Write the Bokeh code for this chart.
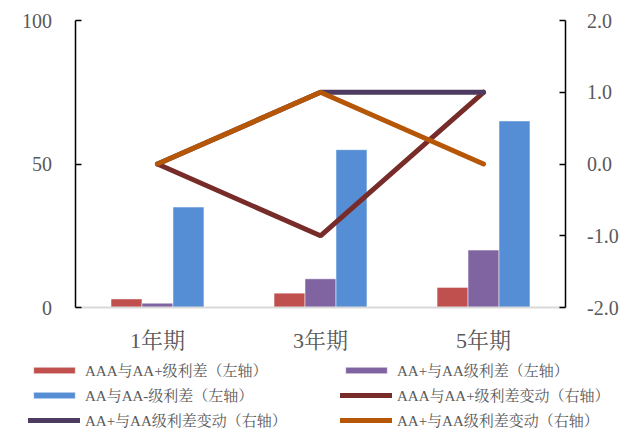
from bokeh.plotting import figure
from bokeh.models import (FactorRange, Range1d, LinearAxis, FixedTicker, Legend, LegendItem,
                          ColumnDataSource, NumeralTickFormatter)
from bokeh.transform import dodge
from bokeh.embed import file_html
from bokeh.resources import INLINE

categories = ["1年期", "3年期", "5年期"]
aaa_aaplus = [3, 5, 7]          # AAA与AA+级利差（左轴）
aaplus_aa = [1.5, 10, 20]       # AA+与AA级利差（左轴）
aa_aaminus = [35, 55, 65]       # AA与AA-级利差（左轴）
chg_aaa_aaplus = [0, -1, 1]     # AAA与AA+级利差变动（右轴）
chg_aaplus_aa_1 = [0, 1, 1]     # AA+与AA级利差变动（右轴）
chg_aaplus_aa_2 = [0, 1, 0]     # AA+与AA级利差变动（右轴）
left_ticks = [0, 50, 100]
right_ticks = [-2, -1, 0, 1, 2]

names = ["AAA与AA+级利差（左轴）", "AA+与AA级利差（左轴）", "AA与AA-级利差（左轴）",
         "AAA与AA+级利差变动（右轴）", "AA+与AA级利差变动（右轴）", "AA+与AA级利差变动（右轴）"]

FONT = "'Liberation Serif', 'Noto Serif CJK SC', 'Noto Sans CJK SC', serif"
GRAY = "#595959"
BAR_COLORS = ["#C0504D", "#8064A2", "#558ED5"]
LINE_COLORS = ["#772C2A", "#4E3B62", "#B65708"]

src = ColumnDataSource(dict(cat=categories, a=aaa_aaplus, b=aaplus_aa, c=aa_aaminus,
                            l1=chg_aaa_aaplus, l2=chg_aaplus_aa_1, l3=chg_aaplus_aa_2))

# the frame fills the whole canvas; axes are pinned inside it, leaving room for the legend
p = figure(width=640, height=433,
           x_range=FactorRange(*categories, range_padding=0.463, range_padding_units="absolute"),
           y_range=Range1d(-43.9, 106.97), output_backend="svg", toolbar_location=None,
           min_border=0)
p.extra_y_ranges = {"right": Range1d(-3.756, 2.279)}
p.outline_line_color = None
p.xgrid.visible = False
p.ygrid.visible = False

bw = 0.19
rs = []
for off, col, c in [(-bw, "a", BAR_COLORS[0]), (0, "b", BAR_COLORS[1]), (bw, "c", BAR_COLORS[2])]:
    rs.append(p.vbar(x=dodge("cat", off, range=p.x_range), top=col, width=bw, source=src,
                     fill_color=c, line_color="white", line_width=0.5))
for col, c in [("l1", LINE_COLORS[0]), ("l2", LINE_COLORS[1]), ("l3", LINE_COLORS[2])]:
    rs.append(p.line(x="cat", y=col, source=src, y_range_name="right", line_color=c,
                     line_width=5, line_cap="round"))

def style_y(a):
    a.axis_line_color = "black"
    a.axis_line_width = 1.5
    a.major_tick_in = 6
    a.major_tick_out = 0
    a.major_tick_line_color = "black"
    a.major_tick_line_width = 1.5
    a.minor_tick_line_color = None
    a.major_label_text_font = FONT
    a.major_label_text_font_size = "20px"
    a.major_label_text_color = GRAY

ax = p.yaxis[0]
ax.ticker = FixedTicker(ticks=left_ticks)
ax.bounds = (0, 100)
ax.fixed_location = 0
style_y(ax)
ax.major_label_standoff = 24

ra = LinearAxis(y_range_name="right", ticker=FixedTicker(ticks=right_ticks),
                formatter=NumeralTickFormatter(format="0.0"), bounds=(-2, 2),
                fixed_location=3)
style_y(ra)
ra.major_label_standoff = 22
p.add_layout(ra, "right")

bx = p.xaxis[0]
bx.fixed_location = 0
bx.bounds = (0, 3)
bx.axis_line_color = "#D9D9D9"
bx.axis_line_width = 2
bx.major_tick_line_color = None
bx.minor_tick_line_color = None
bx.major_label_text_font = FONT
bx.major_label_text_font_size = "22px"
bx.major_label_text_color = GRAY
bx.major_label_standoff = 14

items = [LegendItem(label=n, renderers=[r]) for n, r in zip(names, rs)]
leg = Legend(items=items, location=(28, 1), orientation="horizontal", ncols=2,
             glyph_width=52, glyph_height=8, label_standoff=5, label_width=255,
             spacing=0, padding=0, margin=0, border_line_color=None,
             background_fill_alpha=0, label_text_font=FONT, label_text_font_size="15px",
             label_text_color=GRAY, label_height=25)
p.add_layout(leg, "center")

open("out.html", "w").write(file_html(p, INLINE))
